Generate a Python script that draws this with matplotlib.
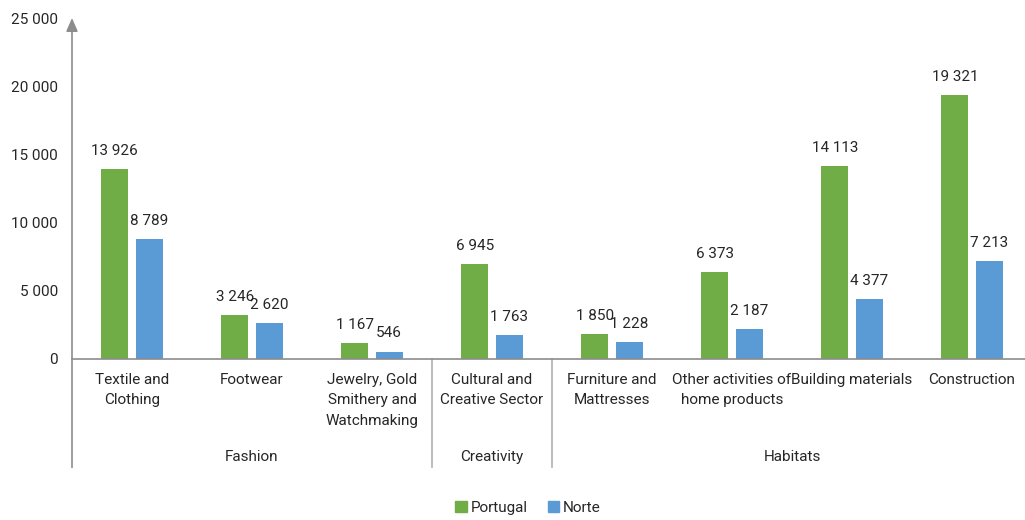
import matplotlib
matplotlib.use("Agg")
import matplotlib.pyplot as plt
from matplotlib.patches import Patch
import numpy as np

categories = [
    "Textile and\nClothing",
    "Footwear",
    "Jewelry, Gold\nSmithery and\nWatchmaking",
    "Cultural and\nCreative Sector",
    "Furniture and\nMattresses",
    "Other activities of\nhome products",
    "Building materials",
    "Construction",
]
portugal = [13926, 3246, 1167, 6945, 1850, 6373, 14113, 19321]
norte = [8789, 2620, 546, 1763, 1228, 2187, 4377, 7213]
groups = ["Fashion", "Creativity", "Habitats"]
group_sizes = [3, 1, 4]
yticks = [0, 5000, 10000, 15000, 20000, 25000]

GREEN = "#70AD47"
BLUE = "#5B9BD5"
AXIS = "#8c8c8c"
TEXT = "#262626"
FS = 11

plt.rcParams["font.family"] = ["Roboto", "DejaVu Sans"]
plt.rcParams["font.weight"] = "normal"

W, H = 1025, 520
fig = plt.figure(figsize=(W / 100, H / 100), dpi=100)
ax = fig.add_axes([72 / W, 1 - 359 / H, 960 / W, (359 - 18) / H])

n = len(categories)
x = np.arange(n)
bw = 0.227
off = 0.143

def fmt(v):
    return f"{v:,}".replace(",", " ")

ax.bar(x - off, portugal, bw, color=GREEN, zorder=2)
ax.bar(x + off, norte, bw, color=BLUE, zorder=2)

for xi, v in zip(x - off, portugal):
    ax.annotate(fmt(v), (xi, v), xytext=(0, 8), textcoords="offset points",
                ha="center", va="bottom", fontsize=FS, color=TEXT)
for xi, v in zip(x + off, norte):
    ax.annotate(fmt(v), (xi, v), xytext=(0, 8), textcoords="offset points",
                ha="center", va="bottom", fontsize=FS, color=TEXT)

ax.set_xlim(-0.5, n - 0.5)
ax.set_ylim(0, 25000)
ax.set_yticks(yticks)
ax.set_yticklabels([fmt(t) for t in yticks], fontsize=FS, color=TEXT)
ax.tick_params(axis="y", length=0, pad=10)
ax.set_xticks([])

for s in ax.spines.values():
    s.set_visible(False)

trans = ax.get_xaxis_transform()
# baseline
ax.plot([-0.5, n - 0.5], [0, 0], color=AXIS, lw=1.2, zorder=3, clip_on=False)
# vertical axis with arrow head
ax.annotate("", xy=(-0.5, 1.0), xytext=(-0.5, -0.318), xycoords=trans,
            textcoords=trans,
            arrowprops=dict(arrowstyle="-|>,head_length=0.8,head_width=0.35",
                            color=AXIS, lw=1.2, shrinkA=0, shrinkB=0))

# category labels
for xi, c in zip(x, categories):
    ax.text(xi, -0.04, c, transform=trans, ha="center", va="top",
            fontsize=FS, color=TEXT, linespacing=1.62)

# group separators and labels
start = 0
for g, sz in zip(groups, group_sizes):
    end = start + sz
    if start > 0:
        ax.plot([start - 0.5, start - 0.5], [0, -0.318], transform=trans,
                color="#b0b0b0", lw=1.2, clip_on=False)
    ax.text((start + end - 1) / 2, -0.288, g, transform=trans, ha="center",
            va="center", fontsize=FS, color=TEXT)
    start = end

# legend
handles = [Patch(color=GREEN, label="Portugal"), Patch(color=BLUE, label="Norte")]
fig.legend(handles=handles, loc="center", bbox_to_anchor=(528 / W, 1 - 508 / H),
           ncol=2, frameon=False, fontsize=FS, handlelength=0.75,
           handleheight=0.75, handletextpad=0.25, columnspacing=1.3,
           labelcolor=TEXT)

fig.savefig("out.png", dpi=100)
